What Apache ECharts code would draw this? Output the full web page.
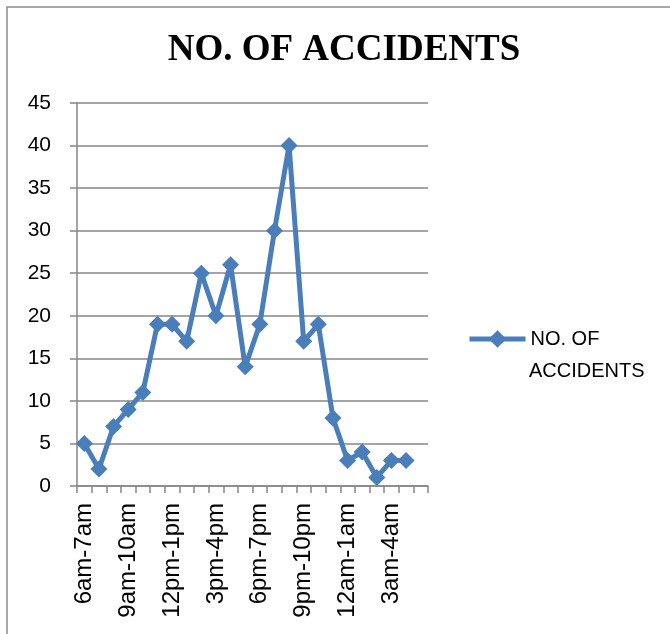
<!DOCTYPE html>
<html>
<head>
<meta charset="utf-8">
<style>
  html, body { margin: 0; padding: 0; background: #fff; }
  #chart { width: 670px; height: 634px; }
</style>
<script src="https://cdn.jsdelivr.net/npm/echarts@6/dist/echarts.min.js"></script>
</head>
<body>
<div id="chart"></div>
<script>
// Accidentes por franja horaria (24 franjas, la última sin dato)
const hours = [
  '6am-7am', '7am-8am', '8am-9am', '9am-10am', '10am-11am', '11am-12pm',
  '12pm-1pm', '1pm-2pm', '2pm-3pm', '3pm-4pm', '4pm-5pm', '5pm-6pm',
  '6pm-7pm', '7pm-8pm', '8pm-9pm', '9pm-10pm', '10pm-11pm', '11pm-12am',
  '12am-1am', '1am-2am', '2am-3am', '3am-4am', '4am-5am', '5am-6am'
];
const accidents = [5, 2, 7, 9, 11, 19, 19, 17, 25, 20, 26, 14, 19, 30, 40, 17, 19, 8, 3, 4, 1, 3, 3, null];
const yTicks = { min: 0, max: 45, interval: 5 };
const seriesName = 'NO. OF ACCIDENTS';

const BLUE = '#4a7ebb';
const GRID = '#868686';
const SANS = '"Liberation Sans", Arial, sans-serif';

const chart = echarts.init(document.getElementById('chart'), null, { renderer: 'canvas' });

chart.setOption({
  backgroundColor: '#fff',
  animation: false,
  graphic: [
    {
      type: 'rect',
      shape: { x: 7, y: 7, width: 700, height: 700 },
      style: { fill: 'none', stroke: '#8a8a8a', lineWidth: 1.5 },
      silent: true,
      z: -1
    },
    // segunda línea del texto de la leyenda (la leyenda centra el icono en la primera)
    {
      type: 'text',
      left: 529,
      top: 361,
      silent: true,
      style: { text: 'ACCIDENTS', fontFamily: SANS, fontSize: 20, fill: '#000' }
    }
  ],
  title: {
    text: seriesName,
    left: 339,
    top: 27,
    textAlign: 'center',
    textStyle: {
      fontFamily: '"Liberation Serif", "Times New Roman", serif',
      fontWeight: 'bold',
      fontSize: 37,
      color: '#000'
    }
  },
  legend: {
    left: 467,
    top: 329,
    padding: 0,
    itemWidth: 56,
    itemHeight: 22,
    data: [seriesName],
    formatter: () => 'NO. OF',
    lineStyle: { width: 5 },
    textStyle: { fontFamily: SANS, fontSize: 20, color: '#000' }
  },
  grid: { left: 77, right: 242, top: 103, bottom: 148 },
  xAxis: {
    type: 'category',
    data: hours,
    boundaryGap: true,
    axisLine: { lineStyle: { color: GRID, width: 1.5 } },
    axisTick: { show: true, length: 7, interval: 0, lineStyle: { color: GRID, width: 1.5 } },
    axisLabel: {
      interval: 2,
      rotate: 90,
      margin: 17,
      fontFamily: SANS,
      fontSize: 24,
      color: '#000'
    },
    splitLine: { show: false }
  },
  yAxis: {
    type: 'value',
    min: yTicks.min,
    max: yTicks.max,
    interval: yTicks.interval,
    axisLine: { show: true, lineStyle: { color: GRID, width: 1.5 } },
    axisTick: { show: true, length: 7, lineStyle: { color: GRID, width: 1.5 } },
    axisLabel: {
      margin: 26,
      fontFamily: SANS,
      fontSize: 21,
      color: '#000'
    },
    splitLine: { lineStyle: { color: GRID, width: 1.5 } }
  },
  series: [{
    name: seriesName,
    type: 'line',
    data: accidents,
    symbol: 'diamond',
    symbolSize: 17,
    showAllSymbol: true,
    connectNulls: false,
    lineStyle: { color: BLUE, width: 5 },
    itemStyle: { color: BLUE },
    emphasis: { disabled: true }
  }]
});
</script>
</body>
</html>
